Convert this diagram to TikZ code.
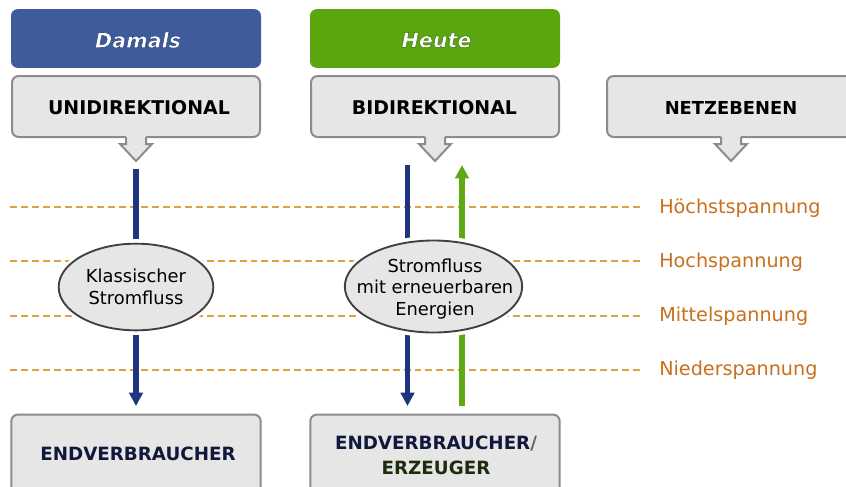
\documentclass[tikz,border=0pt]{standalone}
\usepackage{fontspec}
\setmainfont{DejaVu Sans}
\usetikzlibrary{shapes.geometric,arrows.meta}
\definecolor{boxfill}{HTML}{E6E6E6}
\definecolor{boxline}{HTML}{8C8C8C}
\definecolor{bluehead}{HTML}{3E5B9C}
\definecolor{greenhead}{HTML}{5BA50E}
\definecolor{flowblue}{HTML}{1D3480}
\definecolor{flowgreen}{HTML}{5FAA12}
\definecolor{dashcol}{HTML}{D9A441}
\definecolor{levelcol}{HTML}{C8701E}
\definecolor{navytxt}{HTML}{10183C}
\definecolor{greentxt}{HTML}{1C2C0C}
\newcommand{\outlined}[2]{\special{pdf:code 2 Tr 0.3 w #1 RG}#2\special{pdf:code 0 Tr}}
\tikzset{
  x=0.75pt,y=-0.75pt,
  headbox/.style={rounded corners=5pt,minimum width=187.5pt,minimum height=44pt,inner sep=0pt},
  headtext/.style={inner sep=0pt,text=white,font=\fontsize{15.5}{19}\selectfont\bfseries\itshape},
  callout/.style={draw=boxline,line width=1.5pt,fill=boxfill,rounded corners=5pt},
  calltext/.style={font=\fontsize{14.2}{16}\selectfont\bfseries,text=black,inner sep=0pt},
  bottomtext/.style={font=\fontsize{13.7}{18.6}\selectfont\bfseries,text=navytxt,align=center,inner sep=0pt},
  flowell/.style={ellipse,draw=black!75,line width=1.4pt,fill=boxfill,inner sep=0pt},
  flowtext/.style={inner sep=0pt,align=center,font=\fontsize{13.4}{16.4}\selectfont},
  halo/.style={ellipse,fill=white,inner sep=0pt},
  level/.style={dashcol,line width=1.5pt,dash pattern=on 5.2pt off 3pt},
  bluearrow/.style={flowblue,line width=4.4pt,-{Triangle[length=10pt,width=10pt]}},
  greenarrow/.style={flowgreen,line width=4.4pt,-{Triangle[length=10pt,width=10pt]}},
  levellabel/.style={anchor=west,text=levelcol,font=\fontsize{14.4}{16}\selectfont,inner sep=0pt}
}
\newcommand{\calloutshape}[1]{%
  \draw[callout] (#1-124,76) -- (#1+124,76) -- (#1+124,137) -- (#1-124,137) -- cycle;
  \fill[boxfill] (#1-10,132) rectangle (#1+10,139);
  \draw[boxline,line width=1.5pt,fill=boxfill,line join=miter] (#1-10,137) -- (#1-10,144) -- (#1-16,144) -- (#1,161) -- (#1+16,144) -- (#1+10,144) -- (#1+10,137);
}
\begin{document}
\begin{tikzpicture}
\useasboundingbox (0,0) rectangle (846,486);
\clip (0,0) rectangle (846,486);
\fill[white] (0,0) rectangle (846,486);

% level lines
\coordinate (l1a) at (10,207); \coordinate (l1b) at (640,207);
\coordinate (l2a) at (10,261); \coordinate (l2b) at (640,261);
\coordinate (l3a) at (10,316); \coordinate (l3b) at (640,316);
\coordinate (l4a) at (10,370); \coordinate (l4b) at (640,370);
\draw[level] (l1a) -- (l1b);
\draw[level] (l2a) -- (l2b);
\draw[level] (l3a) -- (l3b);
\draw[level] (l4a) -- (l4b);
\node[levellabel] (n1) at (659,208) {Höchstspannung};
\node[levellabel] (n2) at (659,262) {Hochspannung};
\node[levellabel] (n3) at (659,316) {Mittelspannung};
\node[levellabel] (n4) at (659,370) {Niederspannung};

% header boxes
\node[headbox,fill=bluehead] (damals) at (136,38.5) {};
\node[headbox,fill=greenhead] (heute) at (435,38.5) {};
\node[headtext] (damalst) at (138,40) {\outlined{0.12 0.2 0.45}{Damals}};
\node[headtext] (heutet) at (436.5,40) {\outlined{0.2 0.4 0.05}{Heute}};

% callouts
\calloutshape{136}
\calloutshape{435}
\calloutshape{731}
\node[calltext] (uni) at (139,108) {UNIDIREKTIONAL};
\node[calltext] (bi) at (434.5,108) {BIDIREKTIONAL};
\node[calltext,font=\fontsize{13.4}{16}\selectfont\bfseries] (netz) at (731,108) {NETZEBENEN};

% bottom boxes
\node[draw=boxline,line width=1.5pt,fill=boxfill,rounded corners=5pt,minimum width=187pt,minimum height=60pt,anchor=north] (endv) at (136,413.5) {};
\node[draw=boxline,line width=1.5pt,fill=boxfill,rounded corners=5pt,minimum width=187pt,minimum height=60pt,anchor=north] (ende) at (435,413.5) {};
\node[bottomtext] (t1) at (138,454) {ENDVERBRAUCHER};
\node[bottomtext] (t2) at (436,455) {ENDVERBRAUCHER{\color{boxline!70!black}/}\\{\color{greentxt}ERZEUGER}};

% flows
\coordinate (a1) at (136,169); \coordinate (a2) at (136,406);
\coordinate (b1) at (407.5,165); \coordinate (b2) at (407.5,406);
\coordinate (c1) at (462,406); \coordinate (c2) at (462,165);
\draw[bluearrow] (a1) -- (a2);
\draw[bluearrow] (b1) -- (b2);
\draw[greenarrow] (c1) -- (c2);

% ellipses
\node[halo,minimum width=120pt,minimum height=72pt] (h1) at (136,287) {};
\node[halo,minimum width=138pt,minimum height=76pt] (h2) at (433.5,286.5) {};
\node[flowell,minimum width=116pt,minimum height=65pt] (e1) at (136,287) {};
\node[flowell,minimum width=133pt,minimum height=69pt] (e2) at (433.5,286.5) {};
\node[flowtext] (e1t) at (136,287) {Klassischer\\Stromfluss};
\node[flowtext] (e2t) at (435,289) {Stromfluss\\mit erneuerbaren\\Energien};
\end{tikzpicture}
\end{document}
